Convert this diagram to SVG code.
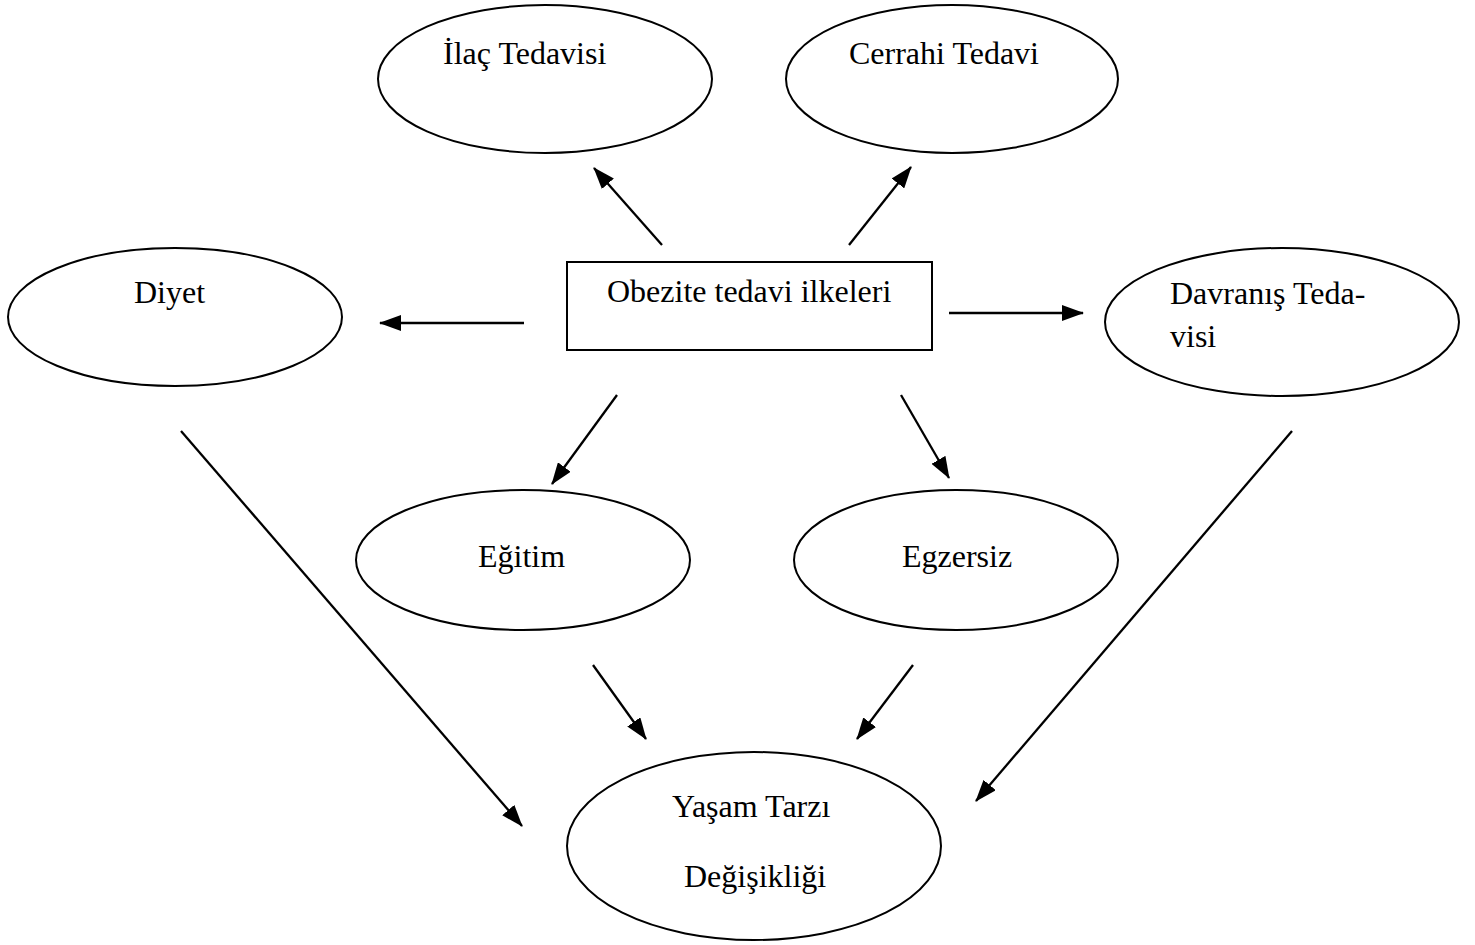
<svg xmlns="http://www.w3.org/2000/svg" width="1475" height="945" viewBox="0 0 1475 945">
  <style>
    .shape { fill: #ffffff; stroke: #000000; stroke-width: 2; }
    .label { font-family: "Liberation Serif", "Times New Roman", serif; font-size: 32px; fill: #000000; }
    .link { stroke: #000000; stroke-width: 2.3; fill: none; marker-end: url(#arrow); }
  </style>
  <defs>
    <marker id="arrow" markerUnits="userSpaceOnUse" markerWidth="22" markerHeight="16" viewBox="0 0 22 16" refX="21" refY="8" orient="auto">
      <path d="M0,0 L22,8 L0,16 Z" fill="#000000"/>
    </marker>
  </defs>

  <rect width="1475" height="945" fill="#ffffff"/>

  <g id="node-ilac">
    <ellipse class="shape" cx="545" cy="79" rx="167" ry="74"/>
    <text class="label" x="443" y="64">İlaç Tedavisi</text>
  </g>
  <g id="node-cerrahi">
    <ellipse class="shape" cx="952" cy="79" rx="166" ry="74"/>
    <text class="label" x="849" y="64">Cerrahi Tedavi</text>
  </g>
  <g id="node-diyet">
    <ellipse class="shape" cx="175" cy="317" rx="167" ry="69"/>
    <text class="label" x="134" y="303">Diyet</text>
  </g>
  <g id="node-obezite">
    <rect class="shape" x="567" y="262" width="365" height="88"/>
    <text class="label" x="607" y="302">Obezite tedavi ilkeleri</text>
  </g>
  <g id="node-davranis">
    <ellipse class="shape" cx="1282" cy="322" rx="177" ry="74"/>
    <text class="label" x="1170" y="304">Davranış Teda-</text>
    <text class="label" x="1170" y="347">visi</text>
  </g>
  <g id="node-egitim">
    <ellipse class="shape" cx="523" cy="560" rx="167" ry="70"/>
    <text class="label" x="478" y="567">Eğitim</text>
  </g>
  <g id="node-egzersiz">
    <ellipse class="shape" cx="956" cy="560" rx="162" ry="70"/>
    <text class="label" x="902" y="567">Egzersiz</text>
  </g>
  <g id="node-yasam">
    <ellipse class="shape" cx="754" cy="846" rx="187" ry="94"/>
    <text class="label" x="672" y="817">Yaşam Tarzı</text>
    <text class="label" x="684" y="887">Değişikliği</text>
  </g>

  <g id="connectors">
    <line class="link" x1="662" y1="245" x2="594" y2="168"/>
    <line class="link" x1="849" y1="245" x2="911" y2="167"/>
    <line class="link" x1="524" y1="323" x2="380" y2="323"/>
    <line class="link" x1="949" y1="313" x2="1083" y2="313"/>
    <line class="link" x1="617" y1="395" x2="552" y2="484"/>
    <line class="link" x1="901" y1="395" x2="949" y2="478"/>
    <line class="link" x1="593" y1="665" x2="646" y2="739"/>
    <line class="link" x1="913" y1="665" x2="857" y2="739"/>
    <line class="link" x1="181" y1="431" x2="522" y2="826"/>
    <line class="link" x1="1292" y1="431" x2="976" y2="801"/>
  </g>
</svg>
